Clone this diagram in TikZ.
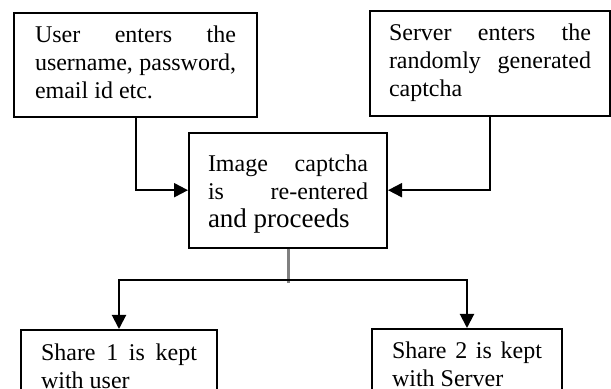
\documentclass[tikz,border=0pt]{standalone}
\usepackage{fontspec}
\setmainfont{Liberation Serif}
\usetikzlibrary{arrows.meta,positioning}

\begin{document}
\begin{tikzpicture}[x=0.5pt,y=-0.5pt,
    box/.style={draw, line width=1pt, inner ysep=0pt, anchor=north, align=justify, font=\fontsize{12}{14}\selectfont},
    flow/.style={-{Triangle[length=7pt,width=7pt]}, line width=1pt},
    trunk/.style={gray, line width=1.5pt}]
    \useasboundingbox (0,0) rectangle (611,389);
    \clip (0,0) rectangle (611,389);

    % Input boxes
    \node[box, text width=100.5pt, inner xsep=10.5pt, text height=14.8pt, text depth=37.2pt] (user) at (135.5,12)
        {User enters the\linebreak username, password,\linebreak email id etc.};
    \node[box, text width=101pt, inner xsep=9.5pt, text height=14.8pt, text depth=37.7pt] (server) at (490,10)
        {Server enters the\linebreak randomly generated\linebreak captcha};

    % Captcha box
    \node[box, text width=80pt, inner xsep=9.5pt, text height=19.2pt, text depth=38.3pt] (captcha) at (288,131.7)
        {Image captcha\linebreak is re-entered\linebreak {\fontsize{13.5}{14}\selectfont and proceeds}};

    % Shares
    \node[box, text width=78pt, inner xsep=10pt, text height=15.2pt, text depth=22pt] (share1) at (119,329)
        {Share 1 is kept\linebreak with user};
    \node[box, text width=75pt, inner xsep=10pt, text height=15pt, text depth=22pt] (share2) at (467,328)
        {Share 2 is kept\linebreak with Server};

    % Arrows
    \draw[flow] (user.south) |- (captcha.west);
    \draw[flow] (server.south) |- (captcha.east);

    \coordinate (fork) at (288,280);
    \draw[trunk, shorten >=-1.5pt] (captcha.south) -- (fork);
    \draw[flow] (fork) -| (share1.north);
    \draw[flow] (fork) -| (share2.north);
\end{tikzpicture}
\end{document}
